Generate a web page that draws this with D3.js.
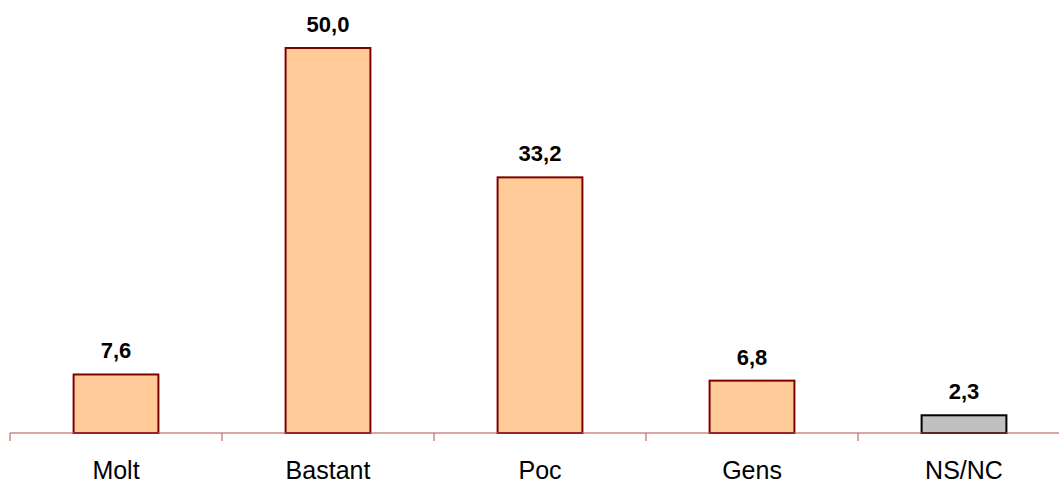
<!DOCTYPE html>
<html>
<head>
<meta charset="utf-8">
<script src="https://cdn.jsdelivr.net/npm/d3@7"></script>
<style>
  body { margin: 0; background: #fff; }
  svg { display: block; font-family: Arial, "Liberation Sans", sans-serif; }
</style>
</head>
<body>
<div id="chart"></div>
<script>
var categories = ["Molt", "Bastant", "Poc", "Gens", "NS/NC"];
var values = [7.6, 50.0, 33.2, 6.8, 2.3];
var fills = ["#ffcc99", "#ffcc99", "#ffcc99", "#ffcc99", "#c0c0c0"];
var strokes = ["#800000", "#800000", "#800000", "#800000", "#000000"];

var width = 1059, height = 483;
var baseY = 433;

var svg = d3.select("#chart").append("svg")
  .attr("width", width)
  .attr("height", height);

// band scale runs a bit past the right edge, like the original
var x = d3.scaleBand()
  .domain(categories)
  .range([10, 10 + 212 * categories.length])
  .paddingInner(0.6)
  .paddingOuter(0.3);

var y = d3.scaleLinear()
  .domain([0, 50])
  .range([baseY, 48]);

var g = svg.append("g");

g.selectAll("rect.bar")
  .data(values)
  .enter().append("rect")
  .attr("class", "bar")
  .attr("x", function(d, i) { return x(categories[i]); })
  .attr("y", function(d) { return y(d); })
  .attr("width", x.bandwidth())
  .attr("height", function(d) { return baseY - y(d); })
  .attr("fill", function(d, i) { return fills[i]; })
  .attr("stroke", function(d, i) { return strokes[i]; })
  .attr("stroke-width", 2);

g.selectAll("text.val")
  .data(values)
  .enter().append("text")
  .attr("class", "val")
  .attr("x", function(d, i) { return x(categories[i]) + x.bandwidth() / 2; })
  .attr("y", function(d) { return y(d) - 16; })
  .attr("text-anchor", "middle")
  .attr("font-size", 22)
  .attr("font-weight", "bold")
  .attr("fill", "#000")
  .text(function(d) { return d.toFixed(1).replace(".", ","); });

// x axis
var axis = d3.axisBottom(x).tickSize(0);
var ax = svg.append("g")
  .attr("transform", "translate(0," + baseY + ")")
  .call(axis);
ax.select(".domain").attr("stroke", "#b05050").attr("stroke-width", 1);
ax.selectAll(".tick text")
  .attr("y", 46)
  .attr("dy", null)
  .attr("font-size", 25)
  .attr("fill", "#000")
  .attr("font-family", "Arial, 'Liberation Sans', sans-serif");

// tick marks on band boundaries
var step = x.step();
var bounds = d3.range(categories.length + 1).map(function(i) { return 10 + i * step; });
ax.selectAll("line.sep")
  .data(bounds)
  .enter().append("line")
  .attr("class", "sep")
  .attr("x1", function(d) { return d; })
  .attr("x2", function(d) { return d; })
  .attr("y1", 0)
  .attr("y2", 8)
  .attr("stroke", "#b05050");
ax.select(".domain").attr("d", "M10,0H" + (10 + step * categories.length));
</script>
</body>
</html>
